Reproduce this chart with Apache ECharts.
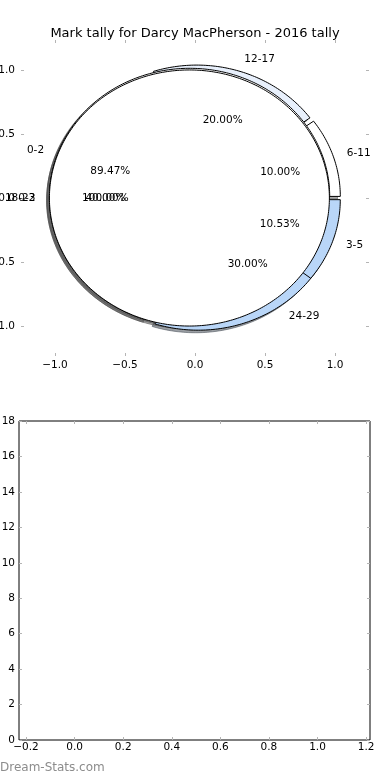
<!DOCTYPE html>
<html><head><meta charset="utf-8">
<script src="https://cdn.jsdelivr.net/npm/echarts@6/dist/echarts.min.js"></script>
<style>html,body{margin:0;padding:0;background:#fff}#c{width:390px;height:780px}</style>
</head><body><div id="c"></div>
<script>
// ---------------- data ----------------
const titleText = 'Mark tally for Darcy MacPherson - 2016 tally';
const pie1Labels = ['6-11', '12-17', '18-23', '24-29'];
const pie1Values = [1, 2, 4, 3];
const pie2Labels = ['0-2', '3-5'];
const pie2Values = [17, 2];
const pie3Labels = ['0-2'];
const pie3Values = [1];
const pieTicks = [-1.0, -0.5, 0.0, 0.5, 1.0];
const lowerXTicks = [-0.2, 0.0, 0.2, 0.4, 0.6, 0.8, 1.0, 1.2];
const lowerYTicks = [0, 2, 4, 6, 8, 10, 12, 14, 16, 18];
const lowerValues = [];
const watermark = 'Dream-Stats.com';

// ---------------- styling ----------------
const FONT = 'DejaVu Sans';
const catColors = {'0-2': '#ffffff', '3-5': '#b9d6f8', '6-11': '#ffffff', '12-17': '#e8f0fc', '18-23': '#ffffff', '24-29': '#b9d6f8'};
const EXPLODE = 0.04, LABEL_D = 1.1, PCT_D = 0.6, SHADOW = 0.02;

function buildPie(labels, values) {
  const total = values.reduce((a, b) => a + b, 0);
  let t1 = 0; const out = [];
  values.forEach((v, i) => {
    const frac = v / total, t2 = t1 + frac;
    const tm = Math.PI * (t1 + t2);
    const cx = EXPLODE * Math.cos(tm), cy = EXPLODE * Math.sin(tm);
    out.push({cx, cy, a1: t1 * 360, a2: t2 * 360, tm, color: catColors[labels[i]] || '#ffffff',
      label: labels[i], pct: (frac * 100).toFixed(2) + '%'});
    t1 = t2;
  });
  return out;
}
const wedges = [].concat(buildPie(pie1Labels, pie1Values), buildPie(pie2Labels, pie2Values), buildPie(pie3Labels, pie3Values));

function hexToRgb(h) { const n = parseInt(h.slice(1), 16); return [(n >> 16) & 255, (n >> 8) & 255, n & 255]; }
function shadowColor(h) { const c = hexToRgb(h).map(v => Math.round(v * 0.3)); return 'rgba(' + c.join(',') + ',0.5)'; }

function wedgePoints(w, dx, dy, api) {
  const pts = [];
  const span = w.a2 - w.a1;
  const full = span >= 359.999;
  if (!full) pts.push(api.coord([w.cx + dx, w.cy + dy]));
  const n = Math.max(2, Math.ceil(span / 1));
  for (let k = 0; k <= n; k++) {
    const a = (w.a1 + span * k / n) * Math.PI / 180;
    pts.push(api.coord([w.cx + dx + Math.cos(a), w.cy + dy + Math.sin(a)]));
  }
  return pts;
}

const wedgeData = wedges.map(w => [w.cx, w.cy]);
const textData = [];
wedges.forEach((w, i) => {
  textData.push([w.cx + LABEL_D * Math.cos(w.tm), w.cy + LABEL_D * Math.sin(w.tm), i, 0]);
  textData.push([w.cx + PCT_D * Math.cos(w.tm), w.cy + PCT_D * Math.sin(w.tm), i, 1]);
});

const tickStyle = {show: true, inside: true, length: 3, lineStyle: {color: '#b4b4b4', width: 1}};
const lblStyle = {color: '#000', fontSize: 10.5, fontFamily: FONT};
const noLine = {show: false, onZero: false};
const fmt = v => (Math.abs(v) < 1e-9 ? 0 : v).toFixed(1).replace('-', '\u2212');

const chart = echarts.init(document.getElementById('c'), null, {renderer: 'canvas'});
chart.setOption({
  animation: false,
  backgroundColor: '#fff',
  title: {text: titleText, left: 'center', top: 22, textStyle: {fontFamily: FONT, fontSize: 13, fontWeight: 'normal', color: '#000'}},
  graphic: [{type: 'text', left: 0, top: 762, style: {text: watermark, fill: '#8c8c8c', font: '12px ' + FONT}}],
  grid: [
    {left: 21, top: 40, width: 348, height: 316, show: false, outerBoundsMode: 'none', containLabel: false},
    {left: 19, top: 421, width: 351, height: 319, show: true, borderColor: '#000', borderWidth: 1, outerBoundsMode: 'none', containLabel: false}
  ],
  xAxis: [
    {gridIndex: 0, type: 'value', min: -1.243, max: 1.243, position: 'bottom', axisLine: noLine, splitLine: {show: false},
      axisTick: Object.assign({customValues: pieTicks}, tickStyle),
      axisLabel: Object.assign({customValues: pieTicks, formatter: fmt, margin: 4}, lblStyle)},
    {gridIndex: 0, type: 'value', min: -1.243, max: 1.243, position: 'top', axisLine: noLine, splitLine: {show: false},
      axisTick: Object.assign({customValues: pieTicks}, tickStyle), axisLabel: {show: false}},
    {gridIndex: 1, type: 'value', min: -0.229, max: 1.216, position: 'bottom', axisLine: noLine, splitLine: {show: false},
      axisTick: Object.assign({customValues: lowerXTicks}, tickStyle),
      axisLabel: Object.assign({customValues: lowerXTicks, formatter: fmt, margin: 2}, lblStyle)},
    {gridIndex: 1, type: 'value', min: -0.229, max: 1.216, position: 'top', axisLine: noLine, splitLine: {show: false},
      axisTick: Object.assign({customValues: lowerXTicks}, tickStyle), axisLabel: {show: false}}
  ],
  yAxis: [
    {gridIndex: 0, type: 'value', min: -1.234, max: 1.234, position: 'left', axisLine: noLine, splitLine: {show: false},
      axisTick: Object.assign({customValues: pieTicks}, tickStyle),
      axisLabel: Object.assign({customValues: pieTicks, formatter: fmt, margin: 6}, lblStyle)},
    {gridIndex: 0, type: 'value', min: -1.234, max: 1.234, position: 'right', axisLine: noLine, splitLine: {show: false},
      axisTick: Object.assign({customValues: pieTicks}, tickStyle), axisLabel: {show: false}},
    {gridIndex: 1, type: 'value', min: 0, max: 18, position: 'left', axisLine: noLine, splitLine: {show: false},
      axisTick: Object.assign({customValues: lowerYTicks}, tickStyle),
      axisLabel: Object.assign({customValues: lowerYTicks, margin: 4}, lblStyle)},
    {gridIndex: 1, type: 'value', min: 0, max: 18, position: 'right', axisLine: noLine, splitLine: {show: false},
      axisTick: Object.assign({customValues: lowerYTicks}, tickStyle), axisLabel: {show: false}}
  ],
  series: [
    {type: 'custom', name: 'shadows', xAxisIndex: 0, yAxisIndex: 0, clip: false, silent: true, data: wedgeData,
      renderItem: (params, api) => {
        const w = wedges[params.dataIndex]; const c = shadowColor(w.color);
        return {type: 'polygon', shape: {points: wedgePoints(w, -SHADOW, -SHADOW, api)}, style: {fill: c, stroke: c, lineWidth: 1}};
      }},
    {type: 'custom', name: 'wedges', xAxisIndex: 0, yAxisIndex: 0, clip: false, silent: true, data: wedgeData,
      renderItem: (params, api) => {
        const w = wedges[params.dataIndex];
        return {type: 'polygon', shape: {points: wedgePoints(w, 0, 0, api)}, style: {fill: w.color, stroke: '#000', lineWidth: 1}};
      }},
    {type: 'custom', name: 'texts', xAxisIndex: 0, yAxisIndex: 0, clip: false, silent: true, data: textData,
      renderItem: (params, api) => {
        const p = api.coord([api.value(0), api.value(1)]);
        const w = wedges[api.value(2)]; const isPct = api.value(3) === 1;
        return {type: 'text', x: p[0], y: p[1], style: {text: isPct ? w.pct : w.label, fill: '#000', font: '10.5px ' + FONT,
          align: isPct ? 'center' : (api.value(0) > 0 ? 'left' : 'right'), verticalAlign: 'middle'}};
      }},
    {type: 'scatter', xAxisIndex: 2, yAxisIndex: 2, data: lowerValues}
  ]
});
</script></body></html>
